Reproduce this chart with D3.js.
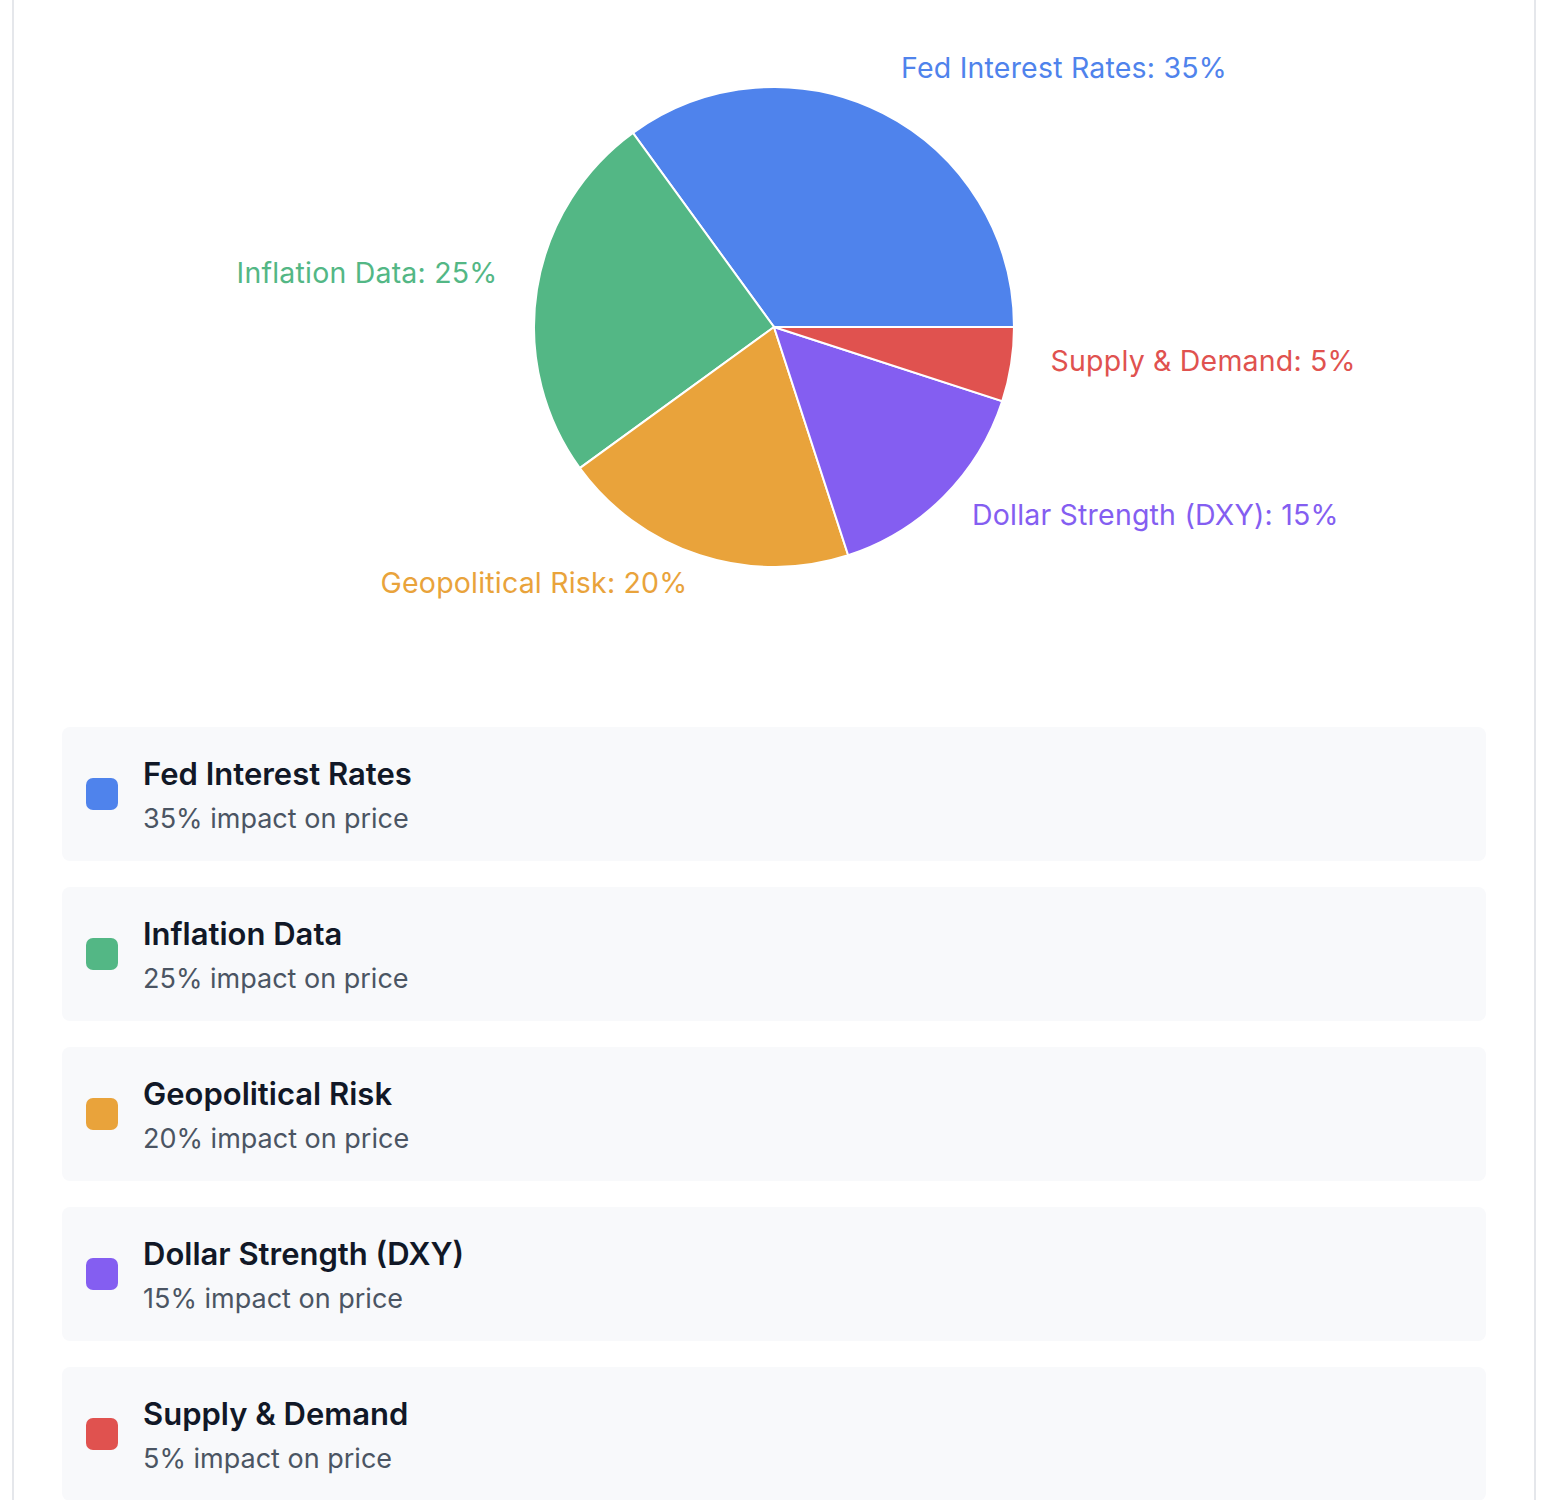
<!DOCTYPE html>
<html lang="en">
  <head>
    <meta charset="UTF-8" />
    <title>Gold Price Drivers</title>
    <script src="https://d3js.org/d3.v7.min.js"></script>
    <style>
      body {
        margin: 0;
        background: #fff;
        font-family: Inter, "Noto Sans", sans-serif;
      }
      .card {
        position: absolute;
        left: 12px;
        top: -40px;
        width: 1520px;
        height: 1600px;
        border-left: 2px solid #e5e7eb;
        border-right: 2px solid #e5e7eb;
        box-sizing: content-box;
      }
      #pie {
        position: absolute;
        left: 0;
        top: 0;
      }
      #legend {
        position: absolute;
        left: 62px;
        top: 727px;
        width: 1424px;
      }
      .item {
        height: 134px;
        margin-bottom: 26px;
        background: #f8f9fb;
        border-radius: 8px;
        position: relative;
      }
      .swatch {
        position: absolute;
        left: 24px;
        top: 51px;
        width: 32px;
        height: 32px;
        border-radius: 7px;
      }
      .title {
        position: absolute;
        left: 81px;
        top: 28px;
        font-size: 31px;
        line-height: 38px;
        font-weight: 600;
        color: #111827;
      }
      .sub {
        position: absolute;
        left: 81px;
        top: 76px;
        font-size: 27px;
        line-height: 32px;
        color: #4b5563;
      }
    </style>
  </head>
  <body>
    <div class="card"></div>
    <svg id="pie" width="1552" height="700"></svg>
    <div id="legend"></div>

    <script>
      const factors = [
        "Fed Interest Rates",
        "Inflation Data",
        "Geopolitical Risk",
        "Dollar Strength (DXY)",
        "Supply & Demand",
      ];
      const impacts = [35, 25, 20, 15, 5];
      const colors = ["#4f83ec", "#53b785", "#e9a33b", "#845ef1", "#e0524f"];

      const data = factors.map((name, i) => ({
        name: name,
        value: impacts[i],
        color: colors[i],
      }));

      const cx = 774,
        cy = 327,
        radius = 240,
        labelRadius = 280;

      // slices run counter-clockwise from 3 o'clock
      const pie = d3
        .pie()
        .sort(null)
        .value((d) => d.value)
        .startAngle(Math.PI / 2)
        .endAngle(Math.PI / 2 - 2 * Math.PI);

      const arc = d3.arc().innerRadius(0).outerRadius(radius);

      const svg = d3.select("#pie");
      const g = svg
        .append("g")
        .attr("transform", `translate(${cx},${cy})`);

      const arcs = pie(data);

      g.selectAll("path")
        .data(arcs)
        .enter()
        .append("path")
        .attr("d", arc)
        .attr("fill", (d) => d.data.color)
        .attr("stroke", "#fff")
        .attr("stroke-width", 2);

      g.selectAll("text")
        .data(arcs)
        .enter()
        .append("text")
        .attr("x", (d) => {
          const a = (d.startAngle + d.endAngle) / 2;
          return labelRadius * Math.sin(a);
        })
        .attr("y", (d) => {
          const a = (d.startAngle + d.endAngle) / 2;
          return -labelRadius * Math.cos(a);
        })
        .attr("text-anchor", (d) => {
          const a = (d.startAngle + d.endAngle) / 2;
          return Math.sin(a) > 0 ? "start" : "end";
        })
        .attr("fill", (d) => d.data.color)
        .style("font-size", "28.5px")
        .style("letter-spacing", "0.2px")
        .text((d) => `${d.data.name}: ${d.data.value}%`);

      // legend cards
      const items = d3
        .select("#legend")
        .selectAll("div.item")
        .data(data)
        .enter()
        .append("div")
        .attr("class", "item");

      items
        .append("div")
        .attr("class", "swatch")
        .style("background", (d) => d.color);
      items
        .append("div")
        .attr("class", "title")
        .text((d) => d.name);
      items
        .append("div")
        .attr("class", "sub")
        .text((d) => `${d.value}% impact on price`);
    </script>
  </body>
</html>
